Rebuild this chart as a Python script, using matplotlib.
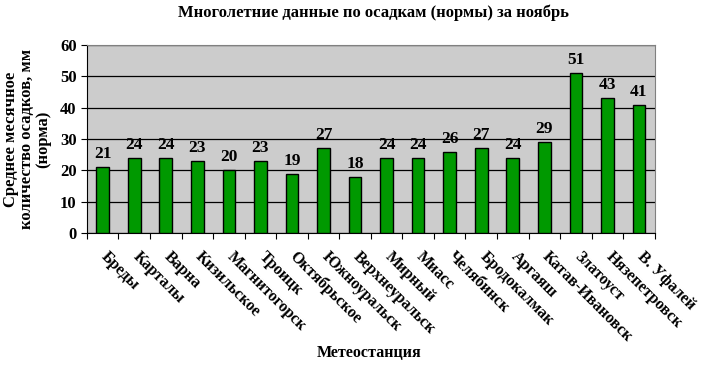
import matplotlib.pyplot as plt
import numpy as np

plt.rcParams['font.family'] = ['Liberation Serif', 'DejaVu Serif']

stations = ['Бреды', 'Карталы', 'Варна', 'Кизильское', 'Магнитогорск', 'Троицк',
            'Октябрьское', 'Южноуральск', 'Верхнеуральск', 'Мирный', 'Миасс',
            'Челябинск', 'Бродокалмак', 'Аргаяш', 'Катав-Ивановск', 'Златоуст',
            'Нязепетровск', 'В. Уфалей']
values = [21, 24, 24, 23, 20, 23, 19, 27, 18, 24, 24, 26, 27, 24, 29, 51, 43, 41]

fig = plt.figure(figsize=(7.01, 3.66), dpi=100, facecolor='w')
ax = fig.add_axes([0.124, 0.363, 0.81, 0.514])
ax.set_facecolor('#cccccc')

x = np.arange(len(stations))
ax.bar(x, values, width=0.4, color='#009900', edgecolor='black', linewidth=1, zorder=3)
for xi, v in zip(x, values):
    ax.text(xi, v + 1.6, str(v), ha='center', va='bottom', fontsize=12.5, fontweight='bold')

ax.set_xlim(-0.5, len(stations) - 0.5)
ax.set_ylim(0, 60)
ax.set_yticks(range(0, 61, 10))
ax.yaxis.grid(True, color='black', linewidth=0.9, zorder=1)
ax.set_axisbelow(True)

# ticks between categories, labels near the centers (slightly right, as in Excel)
ax.set_xticks(np.arange(-0.5, len(stations), 1))
ax.set_xticklabels([])
ax.set_xticks(x + 0.2, minor=True)
ax.set_xticklabels(stations, minor=True, rotation=-45, ha='left', va='top',
                   rotation_mode='anchor', fontsize=11.5, fontweight='bold')
ax.tick_params(axis='x', which='minor', length=0, pad=11)
ax.tick_params(axis='x', which='major', length=4, direction='out', color='black')
ax.tick_params(axis='y', length=4, direction='out', labelsize=12)
for lab in ax.get_yticklabels():
    lab.set_fontweight('bold')

for s in ['left', 'bottom']:
    ax.spines[s].set_color('black')
for s in ['top', 'right']:
    ax.spines[s].set_color('#808080')

fig.text(0.533, 0.965, 'Многолетние данные по осадкам (нормы) за ноябрь',
         ha='center', va='center', fontsize=12, fontweight='bold')
ax.set_ylabel('Среднее месячное\nколичество осадков, мм\n(норма)', fontsize=12,
              fontweight='bold', linespacing=1.05)
ax.yaxis.set_label_coords(-0.062, 0.5)
fig.text(0.527, 0.025, 'Метеостанция', ha='center', fontsize=11.5, fontweight='bold')

fig.savefig('out.png', dpi=100)
